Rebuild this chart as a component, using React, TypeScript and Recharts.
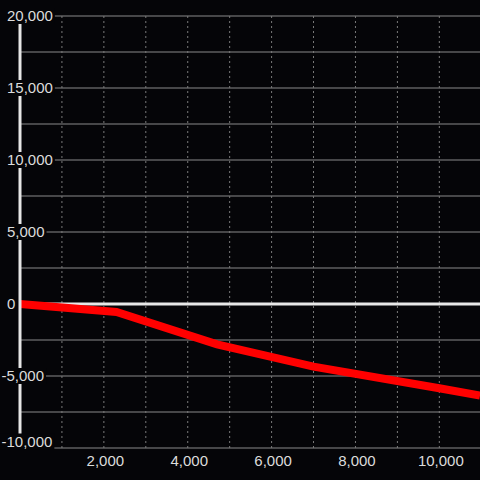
import { LineChart, Line, XAxis, YAxis, CartesianGrid, ReferenceLine } from "recharts";

// line points
const xValues = [0, 2300, 4700, 7000, 10000, 10970];
const yValues = [0, -550, -2800, -4350, -5850, -6350];

const xTicks = [1000, 2000, 3000, 4000, 5000, 6000, 7000, 8000, 9000, 10000];
const yTicks = [-10000, -7500, -5000, -2500, 0, 2500, 5000, 7500, 10000, 12500, 15000, 17500, 20000];

const data = xValues.map((x, i) => ({ x, y: yValues[i] }));

const BG = "#050508";
const TEXT = "#dcdcdc";
const FONT = "Liberation Sans";

const fmt = (v: number) => v.toLocaleString("en-US");

// rough Liberation Sans advance widths at 15px
function textWidth(s: string) {
  let w = 0;
  for (const c of s) {
    if (c === ",") w += 4.17;
    else if (c === "-") w += 5;
    else w += 8.34;
  }
  return w;
}

function YTick(props: any) {
  const { y: ty, payload } = props;
  const v = payload.value as number;
  if (v % 5000 !== 0) return null;
  const label = fmt(v);
  const start = v < 0 ? 1.5 : 7;
  const w = textWidth(label);
  // bottom label is nudged up to stay above the x labels
  const y = v === -10000 ? ty - 6.5 : ty;
  return (
    <g>
      <rect x={0} y={y - 8} width={start + w + 2} height={16} fill={BG} />
      <text x={start} y={y} dy="0.36em" textAnchor="start" fill={TEXT} fontSize={15} fontFamily={FONT}>
        {label}
      </text>
    </g>
  );
}

function XTick(props: any) {
  const { x, payload } = props;
  const v = payload.value as number;
  if (v % 2000 !== 0) return null;
  return (
    <text x={x + 1.5} y={466} textAnchor="middle" fill={TEXT} fontSize={15} fontFamily={FONT}>
      {fmt(v)}
    </text>
  );
}

export default function App() {
  return (
    <div style={{ position: "fixed", left: 0, top: 0, width: 480, height: 480, background: BG }}>
      <LineChart width={480} height={480} data={data} margin={{ top: 16, right: 0, bottom: 0, left: 0 }}>
        <CartesianGrid horizontal={true} vertical={false} stroke="#8a8a8a" syncWithTicks />
        <CartesianGrid horizontal={false} vertical={true} stroke="#7a7a7a" strokeDasharray="2 3" syncWithTicks />
        <XAxis
          type="number"
          dataKey="x"
          domain={[0, 10970]}
          ticks={xTicks}
          height={32}
          axisLine={false}
          tickLine={false}
          tick={<XTick />}
          interval={0}
        />
        <YAxis
          type="number"
          domain={[-10000, 20000]}
          ticks={yTicks}
          width={20}
          axisLine={{ stroke: "#e6e6e6", strokeWidth: 3 }}
          tickLine={false}
          tick={<YTick />}
          interval={0}
        />
        <ReferenceLine y={0} stroke="#e8e8e8" strokeWidth={3} />
        <Line
          type="linear"
          dataKey="y"
          stroke="#ff0000"
          strokeWidth={8}
          dot={false}
          isAnimationActive={false}
        />
      </LineChart>
    </div>
  );
}
